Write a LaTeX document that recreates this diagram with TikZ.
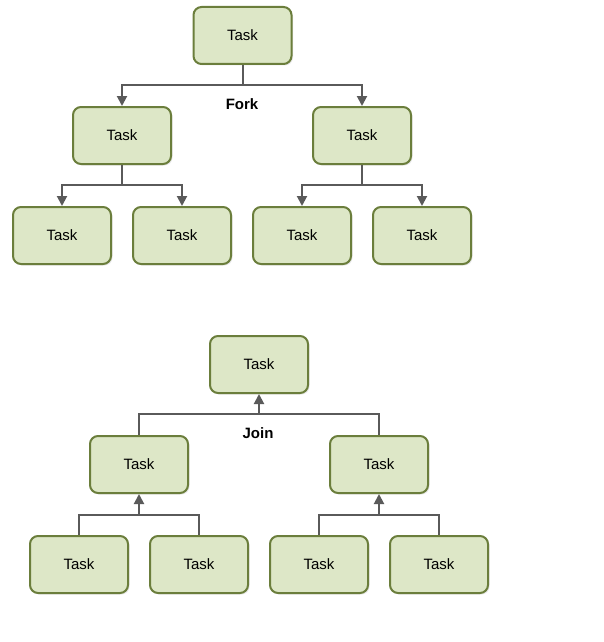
\documentclass[tikz,border=0pt]{standalone}
\usepackage{fontspec}
\setmainfont{Liberation Sans}
\usetikzlibrary{arrows.meta,shadows}
\definecolor{taskfill}{HTML}{DDE7C7}
\definecolor{taskdraw}{HTML}{6B7E3C}
\definecolor{linegray}{HTML}{5A5A5A}
\tikzset{
  task/.style={draw=taskdraw, line width=2pt, fill=taskfill, rounded corners=8pt,
    minimum width=98pt, minimum height=57pt, inner sep=0pt,
    font=\fontsize{15}{18}\selectfont,
    drop shadow={shadow xshift=1.5pt, shadow yshift=-1.5pt, fill=black!18, opacity=0.5}},
  conn/.style={draw=linegray, line width=2pt},
  arr/.style={conn, -{Triangle[length=10pt,width=10pt]}},
  lbl/.style={font=\bfseries\fontsize{15}{18}\selectfont}
}
\begin{document}
\begin{tikzpicture}[x=1pt,y=-1pt]
\useasboundingbox (0,0) rectangle (604,642);
% Fork
\node[task] (f0) at (242.5,35.5) {Task};
\node[task] (f1) at (122,135.5) {Task};
\node[task] (f2) at (362,135.5) {Task};
\node[task] (f11) at (62,235.5) {Task};
\node[task] (f12) at (182,235.5) {Task};
\node[task] (f21) at (302,235.5) {Task};
\node[task] (f22) at (422,235.5) {Task};
\node[lbl] (fork) at (242,104) {Fork};
\coordinate (fa) at (242.5,85);
\coordinate (fb) at (122,185);
\coordinate (fc) at (362,185);
\draw[conn] (f0.south) -- (fa);
\draw[arr] (fa) -| (f1.north);
\draw[arr] (fa) -| (f2.north);
\draw[conn] (f1.south) -- (fb);
\draw[arr] (fb) -| (f11.north);
\draw[arr] (fb) -| (f12.north);
\draw[conn] (f2.south) -- (fc);
\draw[arr] (fc) -| (f21.north);
\draw[arr] (fc) -| (f22.north);
% Join
\node[task] (j0) at (259,364.5) {Task};
\node[task] (j1) at (139,464.5) {Task};
\node[task] (j2) at (379,464.5) {Task};
\node[task] (j11) at (79,564.5) {Task};
\node[task] (j12) at (199,564.5) {Task};
\node[task] (j21) at (319,564.5) {Task};
\node[task] (j22) at (439,564.5) {Task};
\node[lbl] (join) at (258,433) {Join};
\coordinate (ja) at (259,414);
\coordinate (jb) at (139,515);
\coordinate (jc) at (379,515);
\draw[conn] (j1.north) |- (j2.north |- ja) -- (j2.north);
\draw[arr] (ja) -- (j0.south);
\draw[conn] (j11.north) |- (j12.north |- jb) -- (j12.north);
\draw[arr] (jb) -- (j1.south);
\draw[conn] (j21.north) |- (j22.north |- jc) -- (j22.north);
\draw[arr] (jc) -- (j2.south);
\end{tikzpicture}
\end{document}
